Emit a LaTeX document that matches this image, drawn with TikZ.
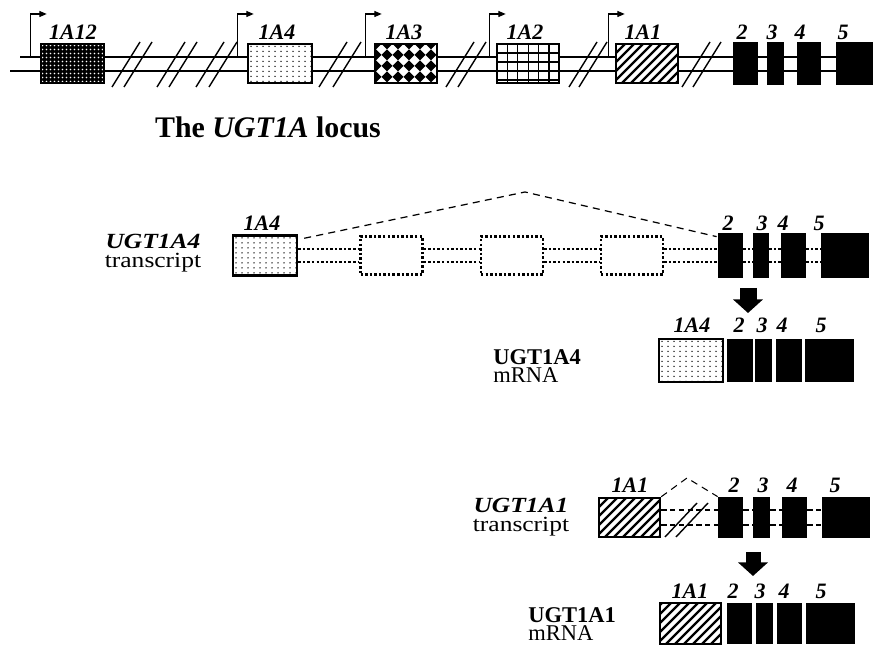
\documentclass[tikz,border=0pt]{standalone}
\usepackage{fontspec}
\setmainfont{Liberation Serif}
\newfontfamily\widefont{Liberation Serif}[FakeStretch=1.18]
\usetikzlibrary{calc,arrows.meta}

\begin{document}
\begin{tikzpicture}[x=0.2mm,y=-0.2mm,
  lbl/.style={font=\fontsize{12.5}{13}\selectfont\bfseries\itshape, anchor=base, inner sep=0},
  txt/.style={font=\fontsize{12.8}{10}\selectfont, inner sep=0},
  trtxt/.style={font=\widefont\fontsize{12.3}{10.8}\selectfont, inner sep=0, align=center},
  ln/.style={line width=0.8pt},
  ex/.style 2 args={fill=black, inner sep=0, minimum width=#1*0.2mm, minimum height=#2*0.2mm},
  fb/.style 2 args={draw, line width=1.4pt, fill=white, inner sep=0, minimum width=#1*0.2mm, minimum height=#2*0.2mm},
  ghost/.style={draw, line width=1.4pt, dash pattern=on 1.4pt off 1.2pt, inner sep=0, minimum width=62*0.2mm, minimum height=38*0.2mm},
  dotln/.style={line width=1.4pt, dash pattern=on 1.4pt off 1.2pt},
  thindash/.style={line width=0.6pt, dash pattern=on 3pt off 2pt},
  splice/.style={line width=0.7pt, dash pattern=on 4pt off 3pt},
  promo/.style={line width=0.8pt, -{Triangle[length=1.5mm,width=1.2mm]}},
  fat/.style={line width=#1*0.2mm, -{Triangle[width=5.8mm,length=2.7mm]}},
  dkdots/.style={fill=black, path picture={
    \foreach \i in {0,...,16} \foreach \j in {0,...,10}
      \fill[white] ($(path picture bounding box.north west)+(\i*4+1.5,\j*4+1.5)$) circle (0.8);}},
  ltdots/.style={path picture={
    \foreach \i in {0,...,11} \foreach \j in {0,...,8}
      \fill[black] ($(path picture bounding box.north west)+(\i*6+3,\j*5+2.5)$) circle (0.75);}},
  diam/.style={path picture={
    \foreach \i in {0,...,6} \foreach \j in {0,...,4}
      \fill[black] ($(path picture bounding box.north west)+(\i*11+1,\j*11)$) +(-5.5,0) -- +(0,-5.5) -- +(5.5,0) -- +(0,5.5) -- cycle;}},
  gridf/.style={path picture={
    \foreach \i in {1,...,5}
      \draw[line width=0.6pt] ($(path picture bounding box.north west)+(\i*10.4,0)$) -- ++(0,45);
    \foreach \j in {1,...,4}
      \draw[line width=0.6pt] ($(path picture bounding box.north west)+(0,\j*9)$) -- ++(70,0);}},
  hatch/.style={path picture={
    \foreach \k in {-50,-41,...,70}
      \draw[line width=1.3pt] ($(path picture bounding box.south west)+(\k,2)$) -- ++(50,-50);}}
]
\useasboundingbox (0,0) rectangle (875,645);

% Il locus UGT1A
\coordinate (la) at (20,57);
\coordinate (lb) at (10,71);
\coordinate (le) at (862,57);
\draw[ln] (la) -- (la -| le);
\draw[ln] (lb) -- (lb -| le);
\foreach \c in {126,138,171,183,210,223,333,347,460,472,583,593,696,707}
  \draw[ln] (\c-14,87) -- (\c+14,42);

\node[fb={63}{39}, dkdots] (a12) at (72.5,63.5) {};
\node[fb={64}{39}, ltdots] (a4) at (280,63.5) {};
\node[fb={62}{39}, diam] (a3) at (406,63.5) {};
\node[fb={62}{39}, gridf] (a2) at (528,63.5) {};
\node[fb={62}{39}, hatch] (a1) at (647,63.5) {};
\node[ex={25}{43}] (x2) at (745.5,63.5) {};
\node[ex={17}{43}] (x3) at (775.5,63.5) {};
\node[ex={24}{43}] (x4) at (809,63.5) {};
\node[ex={37}{43}] (x5) at (854.5,63.5) {};

% Promotori
\foreach \b/\d in {a12/-9,a4/-9,a3/-8,a2/-6,a1/-6}
  \draw[promo] ($(\b.west |- la)+(\d,0)$) |- ++(16,-43);

\foreach \n/\x/\t in {l12/73/1A12,l4/277/1A4,l3/404/1A3,l2/525/1A2,l1/643/1A1,lx2/742/2,lx3/772/3,lx4/800/4,lx5/843/5}
  \node[lbl] (\n) at (\x,40) {\t};

\node[font=\fontsize{17}{20}\selectfont\bfseries, anchor=base] (ttl) at (268,138) {The \textit{UGT1A} locus};

% Trascritto UGT1A4
\node[trtxt] (trA) at (153,253) {\textbf{\textit{UGT1A4}}\\transcript};
\node[fb={64}{40}, ltdots] (tA1) at (265,255.5) {};
\foreach \n/\x in {g1/391.5,g2/512,g3/632}
  \node[ghost] (\n) at (\x,255.5) {};
\node[ex={25}{45}] (tA2) at (730.5,255.5) {};
\node[ex={16}{45}] (tA3) at (761,255.5) {};
\node[ex={25}{45}] (tA4) at (793.5,255.5) {};
\node[ex={48}{45}] (tA5) at (845,255.5) {};
\foreach \a/\b in {tA1/g1,g1/g2,g2/g3,g3/tA2,tA2/tA3,tA3/tA4,tA4/tA5}
  \foreach \d in {-6.5,6.5}
    \draw[dotln] ($(\a.east)+(0,\d)$) -- ($(\b.west)+(0,\d)$);
\coordinate (pkA) at (525,192);
\draw[splice] ($(tA1.north east)+(6,4)$) -- (pkA) -- ($(tA2.north west)+(-1,4)$);
\foreach \n/\x/\t in {ltA1/262/1A4,ltA2/728/2,ltA3/762/3,ltA4/783/4,ltA5/819/5}
  \node[lbl] (\n) at (\x,231) {\t};

\coordinate (arA) at (748,288);
\coordinate (arAe) at (748,313);
\draw[fat=17] (arA) -- (arAe);

% mRNA UGT1A4
\node[txt, align=left, anchor=west] (nmA) at (493,366) {\textbf{UGT1A4}\\mRNA};
\node[fb={64}{43}, ltdots] (mA1) at (691,360.5) {};
\node[ex={26}{43}] (mA2) at (740,360.5) {};
\node[ex={17}{43}] (mA3) at (763.5,360.5) {};
\node[ex={26}{43}] (mA4) at (789,360.5) {};
\node[ex={49}{43}] (mA5) at (829.5,360.5) {};
\foreach \n/\x/\t in {lmA1/692/1A4,lmA2/739/2,lmA3/762/3,lmA4/782/4,lmA5/821/5}
  \node[lbl] (\n) at (\x,333) {\t};

% Trascritto UGT1A1
\node[trtxt] (trB) at (521,517) {\textbf{\textit{UGT1A1}}\\transcript};
\node[fb={61}{39}, hatch] (tB1) at (629.5,517.5) {};
\node[ex={25}{41}] (tB2) at (730.5,517.5) {};
\node[ex={17}{41}] (tB3) at (761.5,517.5) {};
\node[ex={25}{41}] (tB4) at (794.5,517.5) {};
\node[ex={48}{41}] (tB5) at (846,517.5) {};
\foreach \a/\b in {tB1/tB2,tB2/tB3,tB3/tB4,tB4/tB5}
  \foreach \d in {-7.5,7.5}
    \draw[thindash] ($(\a.east)+(0,\d)$) -- ($(\b.west)+(0,\d)$);
\foreach \c in {681,692}
  \draw[ln] (\c-16,537) -- (\c+16,503);
\coordinate (pkB) at (687,478);
\draw[splice, line width=0.6pt] (tB1.north east) -- (pkB) -- (tB2.north west);
\foreach \n/\x/\t in {ltB1/630/1A1,ltB2/734/2,ltB3/763/3,ltB4/792/4,ltB5/835/5}
  \node[lbl] (\n) at (\x,493) {\t};

\coordinate (arB) at (753,552);
\coordinate (arBe) at (753,576);
\draw[fat=15] (arB) -- (arBe);

% mRNA UGT1A1
\node[txt, align=left, anchor=west] (nmB) at (528,624) {\textbf{UGT1A1}\\mRNA};
\node[fb={61}{41}, hatch] (mB1) at (690.5,623.5) {};
\node[ex={25}{41}] (mB2) at (739.5,623.5) {};
\node[ex={17}{41}] (mB3) at (764.5,623.5) {};
\node[ex={25}{41}] (mB4) at (789.5,623.5) {};
\node[ex={49}{41}] (mB5) at (830.5,623.5) {};
\foreach \n/\x/\t in {lmB1/690/1A1,lmB2/733/2,lmB3/760/3,lmB4/784/4,lmB5/821/5}
  \node[lbl] (\n) at (\x,599) {\t};
\end{tikzpicture}
\end{document}
